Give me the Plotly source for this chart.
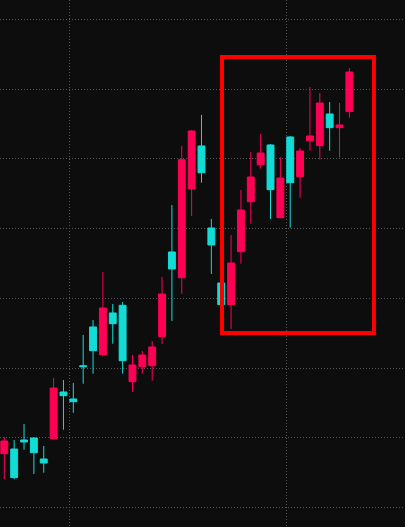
import plotly.graph_objects as go

idx = list(range(36))
opens = [107.72, 108.39, 109.68, 109.97, 106.96, 109.87, 116.57, 115.57, 120.34, 125.90,
         121.92, 127.91, 129.01, 118.05, 120.20, 120.34, 124.51, 136.66, 132.97, 145.70,
         151.87, 140.10, 132.21, 129.10, 136.70, 143.87, 149.18, 152.01, 141.58, 153.16,
         147.46, 152.63, 151.91, 156.46, 154.49, 156.79]
highs = [110.11, 109.68, 111.98, 110.04, 108.82, 118.58, 118.29, 117.86, 124.75, 126.90,
         133.79, 129.20, 129.48, 121.88, 122.45, 123.89, 133.07, 143.40, 151.87, 154.16,
         156.31, 141.39, 133.00, 139.10, 145.55, 151.00, 153.59, 152.15, 150.29, 153.30,
         151.58, 160.33, 159.47, 158.18, 158.03, 163.06]
lows = [104.09, 104.05, 108.29, 104.81, 104.99, 109.80, 111.16, 113.60, 117.76, 119.20,
        121.69, 123.50, 119.20, 116.57, 119.20, 118.19, 123.46, 126.76, 130.67, 141.82,
        146.60, 133.50, 128.60, 125.61, 134.98, 140.72, 148.61, 141.39, 141.50, 140.14,
        144.45, 151.19, 149.90, 151.19, 150.19, 155.93]
closes = [109.54, 104.28, 109.40, 107.86, 106.38, 117.14, 116.04, 115.18, 120.20, 122.50,
          128.62, 126.37, 121.06, 120.44, 121.88, 123.03, 130.63, 134.22, 149.90, 154.02,
          148.03, 137.66, 129.10, 135.08, 142.68, 147.42, 150.86, 145.60, 147.27, 146.60,
          151.15, 153.30, 158.03, 154.49, 154.88, 162.48]

box_x = [22.08, 37.49]
box_y = [125.04, 164.63]

UP = "#ff0055"
DOWN = "#12dcd6"
BG = "#0d0d0d"
GRID = "#555555"

fig = go.Figure(go.Candlestick(
    x=idx, open=opens, high=highs, low=lows, close=closes,
    increasing=dict(line=dict(color=UP, width=1), fillcolor=UP),
    decreasing=dict(line=dict(color=DOWN, width=1), fillcolor=DOWN),
    hoverinfo="skip", showlegend=False,
))

fig.add_shape(type="rect", x0=box_x[0], x1=box_x[1], y0=box_y[0], y1=box_y[1],
              xref="x", yref="y", line=dict(color="#ff0000", width=4), layer="above")

fig.update_layout(
    width=405, height=527,
    margin=dict(l=0, r=0, t=0, b=0),
    paper_bgcolor=BG, plot_bgcolor=BG,
    boxgap=0.3, boxgroupgap=0,
    xaxis=dict(range=[-0.436, 40.64], showticklabels=False, ticks="",
               showgrid=True, gridcolor=GRID, griddash="1px,2px", gridwidth=1,
               tick0=6.59, dtick=22, zeroline=False, showline=False,
               rangeslider=dict(visible=False), fixedrange=True),
    yaxis=dict(range=[97.2, 172.81], showticklabels=False, ticks="",
               showgrid=True, gridcolor=GRID, griddash="1px,2px", gridwidth=1,
               tick0=100, dtick=10, zeroline=False, showline=False, fixedrange=True),
)

fig.write_html("out.html", config={"displayModeBar": False},
               post_script="document.body.style.margin='0';document.body.style.background='%s';" % BG)
